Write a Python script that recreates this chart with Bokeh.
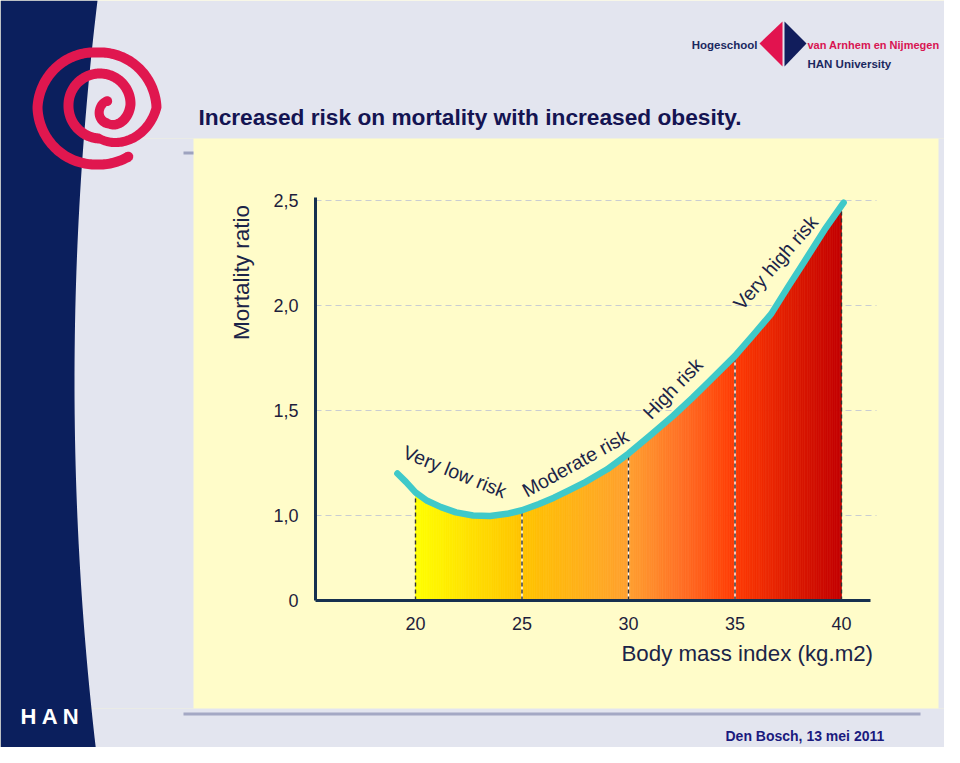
import numpy as np
from bokeh.plotting import figure
from bokeh.models import Range1d, FixedTicker, Label, BoxAnnotation, PolyAnnotation
from bokeh.embed import file_html
from bokeh.resources import INLINE

# ---------------- data ----------------
bmi = [19.15, 19.55, 20.0, 20.55, 21.2, 21.9, 22.7, 23.5, 24.3, 25.0, 25.8, 26.5, 27.2, 27.9,
       29.0, 30.0, 31.0, 32.1, 33.0, 33.7, 35.0, 35.9, 36.7, 37.5, 38.2, 39.2, 40.1]
ratio = [1.20, 1.16, 1.11, 1.07, 1.04, 1.015, 1.0, 0.998, 1.008, 1.025, 1.055, 1.085, 1.12, 1.155,
         1.22, 1.295, 1.38, 1.475, 1.56, 1.63, 1.76, 1.865, 1.96, 2.09, 2.20, 2.36, 2.49]
category_bounds = [20, 25, 30, 35, 40]
bound_ratio = [1.11, 1.025, 1.295, 1.76, 2.45]
risk_labels = ["Very low risk", "Moderate risk", "High risk", "Very high risk"]
x_ticks = [20, 25, 30, 35, 40]
y_ticks = [1.0, 1.5, 2.0, 2.5]
y_tick_labels = ["1,0", "1,5", "2,0", "2,5"]
y_axis_start = 0.595
y_axis_start_label = "0"

title_text = "Increased risk on mortality with increased obesity."
x_title = "Body mass index (kg.m2)"
y_title = "Mortality ratio"
date_text = "Den Bosch, 13 mei 2011"

# ---------------- styles / layout ----------------
SLIDE_BG = "#e3e5ef"
PANEL = "#fffcc9"
NAVY = "#0b1f5d"
RED = "#e0174f"
TEXT = "#1b2448"
AXIS = "#16304f"
CURVE = "#3fc9c9"
FONT = "Liberation Sans"
W, H = 944, 747
PX_PER_BMI, X20_PX = 21.3, 415      # pixel scale of the chart
PX_PER_R, Y1_PX = 210.0, 515
X_AXIS_PX = (315, 870)
Y_AXIS_TOP_PX = 197
GRID_RIGHT_PX = 876

def bx(px):
    return 20 + (px - X20_PX) / PX_PER_BMI

def ry(py):
    return 1 + (Y1_PX - py) / PX_PER_R

GRAD_X = [20, 25, 30, 32.5, 35, 40]
GRAD_C = ["#ffff00", "#ffc400", "#ffa030", "#ff7026", "#ff3a04", "#c20000"]

p = figure(width=W, height=H, title=None,
           x_range=Range1d(bx(0), bx(W)), y_range=Range1d(ry(H), ry(0)),
           output_backend="svg", toolbar_location=None, min_border=0)
p.min_border_left = p.min_border_right = p.min_border_top = p.min_border_bottom = 0
p.border_fill_color = PANEL
p.background_fill_color = PANEL
p.outline_line_color = None
p.grid.visible = False

# axes (drawn at fixed locations inside the canvas)
p.xaxis.ticker = FixedTicker(ticks=x_ticks)
p.yaxis.ticker = FixedTicker(ticks=[y_axis_start] + y_ticks)
p.yaxis.major_label_overrides = {y_axis_start: y_axis_start_label, **{t: l for t, l in zip(y_ticks, y_tick_labels)}}
p.xaxis.fixed_location = y_axis_start
p.yaxis.fixed_location = bx(X_AXIS_PX[0])
p.xaxis.bounds = (bx(X_AXIS_PX[0]), bx(X_AXIS_PX[1]))
p.yaxis.bounds = (y_axis_start, ry(Y_AXIS_TOP_PX))
for ax in (p.xaxis, p.yaxis):
    ax.axis_line_width = 3
    ax.axis_line_color = AXIS
    ax.major_tick_line_color = None
    ax.minor_tick_line_color = None
    ax.major_tick_out = 0
    ax.major_tick_in = 0
    ax.major_label_text_font = FONT
    ax.major_label_text_font_size = "18px"
    ax.major_label_text_color = "#1e1e3c"
p.xaxis.major_label_standoff = 16
p.yaxis.major_label_standoff = 17

# horizontal grid lines from the axis to the right edge of the chart
p.segment(x0=[bx(X_AXIS_PX[0])] * len(y_ticks), y0=y_ticks, x1=[bx(GRID_RIGHT_PX)] * len(y_ticks), y1=y_ticks,
          line_color="#c9cdd2", line_dash="6 4", line_width=1)

# gradient fill under the curve
def h2r(h):
    return np.array([int(h[i:i + 2], 16) for i in (1, 3, 5)], dtype=float)

grad_rgb = np.array([h2r(c) for c in GRAD_C])
edges = np.linspace(category_bounds[0], category_bounds[-1], 241)
xs, ys, cols = [], [], []
for a, b in zip(edges[:-1], edges[1:]):
    ta, tb = np.interp(a, bmi, ratio), np.interp(b, bmi, ratio)
    xs.append([a, b, b, a])
    ys.append([y_axis_start, y_axis_start, tb, ta])
    m = 0.5 * (a + b)
    rgb = [np.interp(m, GRAD_X, grad_rgb[:, k]) for k in range(3)]
    cols.append("#%02x%02x%02x" % tuple(int(round(v)) for v in rgb))
p.patches(xs, ys, fill_color=cols, line_color=cols, line_width=0.7)

# category separators
p.segment(x0=category_bounds[1:-1], y0=[y_axis_start] * 3, x1=category_bounds[1:-1], y1=bound_ratio[1:-1],
          line_color="white", line_width=1.4)
p.segment(x0=category_bounds, y0=[y_axis_start] * 5, x1=category_bounds, y1=bound_ratio,
          line_color="#333333", line_width=1.4, line_dash="4 3")

# curve
p.line(bmi, ratio, line_color=CURVE, line_width=6.5, line_cap="round", line_join="round")

# risk labels (rotated along the curve)
for txt, (lx, ly, ang) in zip(risk_labels, [(21.85, 1.21, -22), (27.5, 1.25, 29), (32.07, 1.605, 46), (36.9, 2.205, 49)]):
    p.add_layout(Label(x=lx, y=ly, text=txt, angle=ang, angle_units="deg", text_align="center",
                       text_baseline="middle", text_font=FONT, text_font_size="19.5px", text_color=TEXT))

# ---------------- slide decorations (canvas units = slide pixels) ----------------
def box(l, t, r, b, color):
    p.add_layout(BoxAnnotation(left=l, right=r, top=t, bottom=b,
                               left_units="canvas", right_units="canvas", top_units="canvas",
                               bottom_units="canvas", fill_color=color, fill_alpha=1.0,
                               line_color=None))

def poly(px, py, color):
    p.add_layout(PolyAnnotation(xs=list(px), ys=list(py),
                                xs_units="canvas", ys_units="canvas", fill_color=color, fill_alpha=1.0,
                                line_color=None))

def label(x, y, text, size, color, bold=False, align="left", baseline="middle", angle=0, font=FONT):
    p.add_layout(Label(x=x, y=y, x_units="canvas", y_units="canvas", text=text,
                       text_font=font, text_font_size=size, text_color=color,
                       text_font_style="bold" if bold else "normal", text_align=align,
                       text_baseline=baseline, angle=angle, angle_units="deg"))

box(0, 0, W, 138, SLIDE_BG)
box(0, 708, W, H, SLIDE_BG)
box(0, 138, 193, 708, SLIDE_BG)
box(938, 138, W, 708, SLIDE_BG)
box(183, 151, 193, 154, "#9ea3bf")
box(183, 712, 920, 715, "#a4a8c4")

# left navy band with curved edge
ey = np.linspace(0, 763, 60)
ex = 74 + 23 * ((ey - 381) / 381) ** 2
poly([0] + list(ex) + [0], [0] + list(ey) + [763], NAVY)

# red spiral logo
PHI = [58, 90, 180, 270, 360, 405, 450, 540, 630, 720, 810, 900, 945]
RAD = [58, 57, 60, 55, 59, 46, 33, 32, 31, 30, 17, 13, 9]
CXS = [97, 97, 97, 97, 97, 98, 99, 100, 100, 100, 108, 113, 113]
CYS = [107, 107, 107, 107, 107, 106, 105, 104, 104, 104, 106, 107, 107]
ph = np.linspace(PHI[0], PHI[-1], 500)
rr = np.interp(ph, PHI, RAD)
ccx = np.interp(ph, PHI, CXS)
ccy = np.interp(ph, PHI, CYS)
tt = np.radians(ph)
w = 5
ox, oy = ccx + (rr + w) * np.cos(tt), ccy + (rr + w) * np.sin(tt)
ix, iy = ccx + (rr - w) * np.cos(tt), ccy + (rr - w) * np.sin(tt)
poly(list(ox) + list(ix[::-1]), list(oy) + list(iy[::-1]), RED)
for k in (0, -1):
    cx0, cy0 = ccx[k] + rr[k] * np.cos(tt[k]), ccy[k] + rr[k] * np.sin(tt[k])
    a = np.linspace(0, 2 * np.pi, 24)
    poly(cx0 + w * np.cos(a), cy0 + w * np.sin(a), RED)

# HAN mark bottom-left
label(20, 716, "H A N", "22px", "white", bold=True)

# top-right logo
poly([759, 782, 782], [43, 21, 66], "#e2134f")
poly([784, 806, 784], [21, 43, 66], "#111d5c")
label(757, 44, "Hogeschool", "11.5px", "#1b2860", bold=True, align="right")
label(807, 44, "van Arnhem en Nijmegen", "11px", "#d81452", bold=True)
label(807, 63, "HAN University", "11.5px", "#1b2860", bold=True)

# texts
label(198, 116, title_text, "22.7px", "#141452", bold=True)
label(241, 272, y_title, "22.5px", TEXT, align="center", angle=90)
label(621, 653, x_title, "22.3px", TEXT)
label(725, 735, date_text, "14px", "#1a1a7e", bold=True)

open("out.html", "w").write(file_html(p, INLINE))
